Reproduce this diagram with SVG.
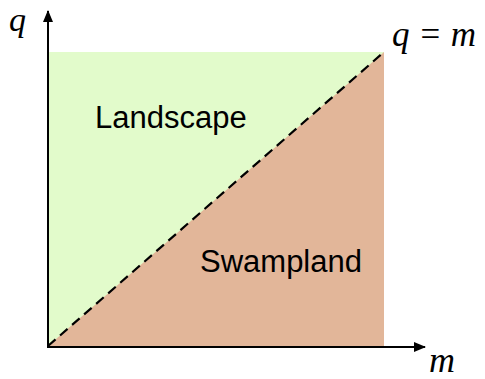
<svg xmlns="http://www.w3.org/2000/svg" width="485" height="379" viewBox="0 0 485 379">
<style>
.math{font-family:"Liberation Serif","DejaVu Serif",serif;font-style:italic;font-size:35px;fill:#000}
.lbl{font-family:"Liberation Sans",Arial,sans-serif;font-size:31px;fill:#000}
.axis{stroke:#000;stroke-width:2;fill:none}
</style>
<defs>
<marker id="ah" viewBox="0 0 12 10" refX="11" refY="5" markerWidth="12" markerHeight="10" markerUnits="userSpaceOnUse" orient="auto">
<path d="M0,0 L12,5 L0,10 Z" fill="#000"/>
</marker>
</defs>
<rect width="485" height="379" fill="#fff"/>
<g id="landscape">
<rect x="48" y="52" width="336" height="294" fill="#E2FBCB"/>
<text class="lbl" x="95" y="128">Landscape</text>
</g>
<g id="swampland">
<polygon points="48,346 384,52 384,346" fill="#E2B699"/>
<text class="lbl" x="200" y="272">Swampland</text>
</g>
<g id="connectors">
<line x1="48" y1="346" x2="384" y2="52" stroke="#000" stroke-width="2.2" stroke-dasharray="10,6"/>
<line class="axis" x1="48" y1="347" x2="48" y2="11" marker-end="url(#ah)"/>
<line class="axis" x1="47" y1="347" x2="425" y2="347" marker-end="url(#ah)"/>
</g>
<g id="labels">
<text class="math" x="9" y="31" style="font-size:34px">q</text>
<text class="math" x="392" y="46" textLength="84" lengthAdjust="spacing">q = m</text>
<text class="math" x="429" y="372" style="font-size:36px">m</text>
</g>
</svg>
